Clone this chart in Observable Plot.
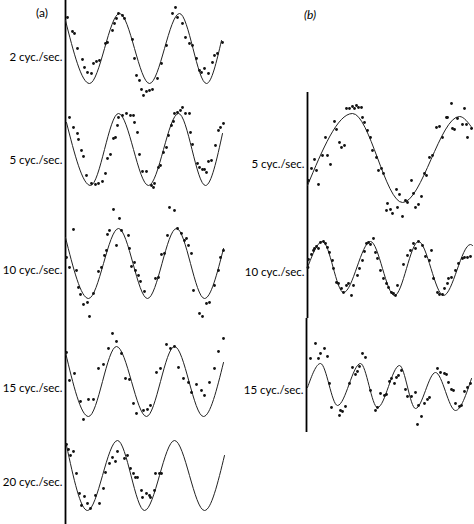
<!DOCTYPE html>
<html><head><meta charset="utf-8">
<script src="https://cdn.jsdelivr.net/npm/d3@7"></script>
<script src="https://cdn.jsdelivr.net/npm/@observablehq/plot@0.6"></script>
<style>
html,body{margin:0;padding:0;background:#fff;}
#fig{position:relative;width:474px;height:524px;overflow:hidden;font-family:Lato,"Open Sans",sans-serif;}
#fig svg{position:absolute;left:0;top:0;}
.tag{position:absolute;font-size:12px;color:#000;font-family:Lato,"Open Sans",sans-serif;}
</style></head><body>
<div id="fig">
  <div class="tag" style="left:36px;top:5px;">(a)</div>
  <div class="tag" style="left:304px;top:7px;font-style:italic;">(b)</div>
</div>
<script>
// ---- Data: [time (arb. units), response (arb. units, up = positive)] ----
const labelsA = ["2 cyc./sec.", "5 cyc./sec.", "10 cyc./sec.", "15 cyc./sec.", "20 cyc./sec."];
const labelsB = ["5 cyc./sec.", "10 cyc./sec.", "15 cyc./sec."];

// fitted sinusoid: start, successive troughs/peaks, end
const curveA2 = [[0,28],[24,-35],[54,35],[84,-35],[114,35],[141,-35],[156,8]];
const curveA5 = [[1,27],[25,-36],[53,36],[83,-36],[113,36],[140,-36],[157,16]];
const curveA10 = [[0,26],[23,-35],[53,35],[82,-35],[111,35],[139,-35],[158,15]];
const curveA15 = [[0,29],[23,-35],[51,35],[81,-35],[109,35],[138,-35],[158,19]];
const curveA20 = [[1,30],[22,-35],[52,35],[79,-35],[109,35],[139,-35],[159,20]];
const curveB5 = [[0,-27],[45,45],[95,-44],[152,42],[165,30]];
const curveB10 = [[0,1],[15,27],[36,-24],[63,27],[87,-27],[111,27],[136,-27],[163,24],[165,23]];
const curveB15 = [[1,-1],[14,23],[31,-19],[54,23],[71,-21],[93,21],[109,-22],[129,14],[149,-24],[165,8]];

// measured responses
const dotsA2 = [[2,31],[7,17],[9,15],[12,0],[17,-11],[19,-19],[22,-24],[26,-25],[28,-15],[31,-13],[34,-12],[40,5],[42,6],[47,18],[49,25],[51,30],[53,35],[57,33],[59,30],[67,9],[69,-10],[71,-27],[74,-32],[76,-41],[78,-47],[81,-43],[84,-42],[87,-41],[92,-30],[96,-15],[101,3],[107,35],[110,41],[112,31],[117,25],[120,11],[124,5],[127,3],[131,-10],[134,-22],[136,-24],[139,-20],[143,-25],[147,-14],[149,-7],[152,-5],[157,6]];
const dotsA5 = [[4,32],[8,22],[12,16],[13,10],[16,-1],[18,-7],[21,-26],[26,-34],[30,-35],[33,-34],[37,-32],[40,-24],[42,-9],[45,-5],[48,11],[50,12],[52,24],[53,32],[57,34],[61,36],[65,34],[68,34],[69,27],[72,17],[74,-5],[77,-22],[81,-22],[86,-36],[88,-38],[89,-34],[93,-18],[95,-16],[98,-3],[101,2],[103,14],[106,24],[108,28],[109,36],[112,37],[115,39],[117,42],[120,36],[124,36],[125,17],[127,5],[132,-14],[134,-18],[137,-20],[139,-20],[141,-23],[143,-12],[146,-11],[150,4],[153,19],[155,22],[158,26]];
const dotsA10 = [[1,6],[4,-4],[8,34],[11,-7],[13,-24],[15,-31],[18,-41],[22,-39],[24,-53],[28,-30],[33,-8],[36,-4],[39,8],[41,13],[42,29],[44,33],[48,54],[51,18],[54,45],[56,33],[63,28],[64,15],[66,-3],[69,1],[70,-7],[73,-12],[75,-18],[79,-28],[90,-15],[93,-14],[96,9],[99,10],[102,28],[104,56],[109,53],[112,35],[116,30],[119,23],[121,25],[123,18],[126,10],[128,-27],[134,-50],[137,-53],[141,-40],[144,-39],[149,-22],[153,-7],[155,6],[158,13]];
const dotsA15 = [[1,29],[4,1],[9,8],[15,-20],[18,-38],[23,-18],[28,-18],[33,13],[38,17],[43,33],[47,48],[51,40],[56,28],[60,3],[64,2],[68,-22],[71,-32],[78,-29],[82,-28],[85,-24],[91,9],[95,13],[101,37],[105,33],[109,35],[113,14],[118,3],[123,-1],[126,-11],[131,-3],[136,-9],[139,-14],[144,-1],[149,13],[153,30],[158,43]];
const dotsA20 = [[1,31],[3,26],[5,20],[8,24],[11,2],[14,-18],[16,-30],[19,-21],[22,-28],[25,-33],[30,-20],[34,-28],[38,-13],[40,3],[44,12],[47,18],[50,14],[52,24],[59,17],[62,20],[65,7],[68,2],[70,-2],[72,-2],[76,-15],[77,-22],[81,-18],[84,-20],[85,-22],[89,-15],[90,2],[94,2],[96,2]];
const dotsB5 = [[1,-22],[4,-10],[7,-1],[9,-12],[11,-26],[15,3],[18,21],[20,3],[23,-6],[27,37],[29,29],[32,16],[34,11],[37,13],[39,50],[42,50],[45,52],[47,50],[49,53],[51,51],[54,51],[55,41],[57,36],[60,28],[63,21],[65,8],[69,1],[71,-12],[74,-10],[76,-15],[79,-52],[80,-45],[83,-51],[85,-55],[89,-31],[90,-49],[92,-36],[95,-58],[98,-42],[100,-44],[104,-22],[106,-35],[108,-49],[111,-46],[114,-38],[117,-15],[119,-17],[122,1],[125,3],[129,31],[132,32],[135,21],[139,41],[140,41],[144,55],[145,30],[147,29],[150,40],[155,34],[157,50],[159,34],[160,21],[164,30]];
const dotsB10 = [[0.5,1],[1,9],[4,14],[6,18],[7,20],[9,22],[11,20],[13,26],[16,27],[18,25],[20,21],[22,16],[25,8],[26,0],[29,-14],[31,-15],[34,-20],[36,-24],[39,-17],[41,-15],[44,-27],[46,-17],[50,-7],[52,0],[55,8],[57,17],[59,25],[61,26],[63,24],[66,30],[68,16],[70,10],[73,-2],[76,-10],[79,-15],[81,-19],[84,-24],[86,-25],[88,-27],[90,-17],[96,4],[100,13],[103,18],[106,25],[108,20],[111,27],[115,23],[118,12],[122,8],[124,18],[126,-10],[130,-24],[132,-26],[135,-26],[137,-20],[140,-15],[141,-10],[144,-9],[148,-2],[151,5],[155,10],[157,11],[160,11],[163,12]];
const dotsB15 = [[4,28],[9,43],[12,28],[14,33],[18,38],[21,30],[23,3],[25,-21],[33,-29],[34,-24],[36,-25],[39,-20],[43,3],[46,19],[49,12],[51,15],[53,20],[56,33],[59,29],[64,-4],[69,-24],[71,-21],[74,-7],[78,-9],[80,-8],[83,5],[85,8],[88,3],[90,9],[92,11],[95,16],[99,-3],[101,-10],[105,-10],[109,-6],[112,-19],[115,-30],[111,-38],[118,-17],[121,-13],[123,-11],[131,18],[134,14],[138,13],[140,12],[142,4],[145,-3],[147,-4],[149,-17],[153,-20],[155,-19],[158,-5],[161,-1],[164,3]];

// ---- Layout (page pixels) ----
const rows = [
  {label: labelsA[0], curve: curveA2,  dots: dotsA2,  left: 65,  top: 0,   bottom: 100, center: 48,  dy: 9},
  {label: labelsA[1], curve: curveA5,  dots: dotsA5,  left: 65,  top: 100, bottom: 205, center: 149, dy: 11},
  {label: labelsA[2], curve: curveA10, dots: dotsA10, left: 65,  top: 205, bottom: 322, center: 263, dy: 7},
  {label: labelsA[3], curve: curveA15, dots: dotsA15, left: 65,  top: 322, bottom: 425, center: 381, dy: 7},
  {label: labelsA[4], curve: curveA20, dots: dotsA20, left: 65,  top: 425, bottom: 524, center: 475, dy: 7},
  {label: labelsB[0], curve: curveB5,  dots: dotsB5,  left: 307, top: 92,  bottom: 215, center: 158, dy: 6},
  {label: labelsB[1], curve: curveB10, dots: dotsB10, left: 307, top: 215, bottom: 318, center: 268, dy: 4},
  {label: labelsB[2], curve: curveB15, dots: dotsB15, left: 306, top: 318, bottom: 432, center: 386, dy: 4}
];

const fig = document.getElementById("fig");
for (const r of rows) {
  const curveData = r.curve.map(([t, v]) => ({t, v}));
  const dotData = r.dots.map(([t, v]) => ({t, v}));
  const xmax = 170;
  const lo = r.center - r.bottom, hi = r.center - r.top;
  const svg = Plot.plot({
    width: 474, height: 524, margin: 0,
    x: {domain: [0, xmax], range: [r.left, r.left + xmax], axis: null},
    y: {domain: [lo, hi], range: [r.bottom, r.top], axis: null},
    style: {background: "transparent", overflow: "visible", fontFamily: "Lato, 'Open Sans', sans-serif", fontSize: "11.5px", color: "#000"},
    marks: [
      Plot.ruleX([0], {y1: lo, y2: hi, stroke: "#000", strokeWidth: 1.8}),
      Plot.line(curveData, {x: "t", y: "v", curve: "monotone-x", stroke: "#222", strokeWidth: 1}),
      Plot.dot(dotData, {x: "t", y: "v", r: 1.4, fill: "#111", stroke: "none"}),
      Plot.text([{t: 0, v: 0, s: r.label}], {x: "t", y: "v", text: "s", textAnchor: "end", dx: -3, dy: r.dy, fill: "#000", fontSize: 11.5})
    ]
  });
  fig.appendChild(svg);
}
</script>
</body></html>
